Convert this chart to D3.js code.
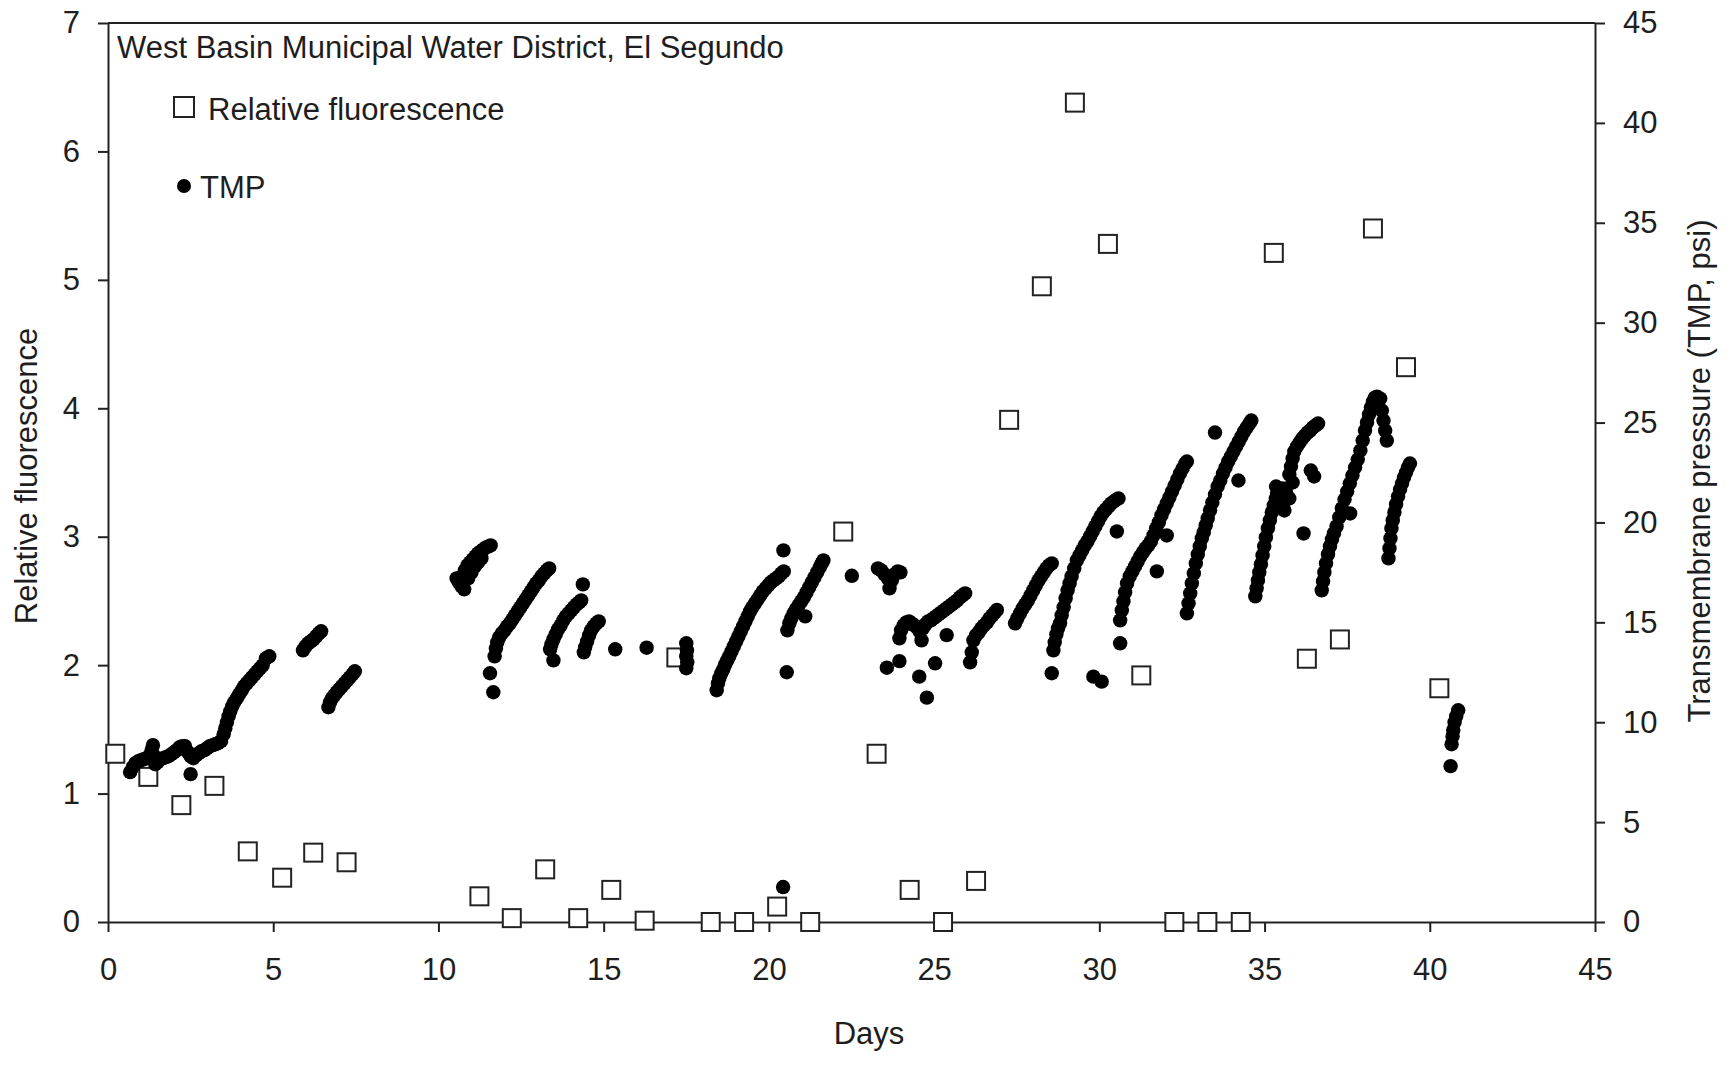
<!DOCTYPE html>
<html>
<head>
<meta charset="utf-8">
<script src="https://cdn.jsdelivr.net/npm/d3@7"></script>
<style>
  body { margin: 0; background: #fff; }
  svg text { font-family: "Liberation Sans", Arial, sans-serif; fill: #1e1e1e; }
  .axis path, .axis line { stroke: #222; stroke-width: 2; }
</style>
</head>
<body>
<div id="chart"></div>
<script>
// relative fluorescence samples (open squares, left axis)
var fluorDays = [0.22, 1.22, 2.22, 3.22, 4.23, 5.27, 6.21, 7.22, 11.24, 12.22, 13.23, 14.23, 15.23, 16.24,
  17.2, 18.24, 19.25, 20.25, 21.25, 22.25, 23.26, 24.26, 25.27, 26.27, 27.27, 28.26, 29.26, 30.26,
  31.27, 32.27, 33.27, 34.28, 35.28, 36.28, 37.28, 38.28, 39.28, 40.29];
var fluorValues = [1.31, 1.13, 0.91, 1.06, 0.55, 0.345, 0.54, 0.465, 0.20, 0.03, 0.41, 0.03, 0.25, 0.01,
  2.06, 0, 0, 0.12, 0, 3.04, 1.31, 0.25, 0, 0.32, 3.91, 4.95, 6.38, 5.28,
  1.92, 0, 0, 0, 5.21, 2.05, 2.20, 5.40, 4.32, 1.82];

// transmembrane pressure readings [day, psi] (filled dots, right axis)
var tmpReadings = [
  [0.67,7.5],[0.75,7.75],[0.83,7.95],[0.92,8.05],[1.0,8.1],[1.08,8.15],[1.17,8.2],[1.25,8.3],[1.32,8.6],[1.36,8.85],
  [1.40,8.3],[1.43,7.9],[1.5,8.0],[1.58,8.15],[1.67,8.2],[1.75,8.25],[1.83,8.3],[1.92,8.4],[2.0,8.5],[2.08,8.6],
  [2.17,8.75],[2.25,8.8],[2.33,8.8],[2.42,8.5],[2.5,8.3],[2.5,7.4],[2.58,8.2],[2.67,8.35],[2.75,8.45],[2.83,8.55],
  [2.92,8.6],[3.0,8.7],[3.08,8.8],[3.17,8.85],[3.25,8.9],[3.33,8.95],[3.42,9.05],[3.5,9.4],[3.55,9.7],[3.6,10.0],
  [3.65,10.3],[3.7,10.55],[3.76,10.8],[3.82,11.0],[3.9,11.2],[3.97,11.4],[4.05,11.6],[4.12,11.8],[4.2,11.95],[4.28,12.1],
  [4.36,12.25],[4.44,12.4],[4.52,12.55],[4.6,12.7],[4.68,12.85],[4.78,13.2],[4.88,13.3],
  [5.9,13.6],[5.98,13.8],[6.06,13.95],[6.14,14.05],[6.22,14.15],[6.3,14.3],[6.38,14.45],[6.45,14.55],
  [6.67,10.75],[6.72,11.0],[6.78,11.2],[6.85,11.35],[6.92,11.5],[7.0,11.65],[7.08,11.8],[7.16,11.95],[7.24,12.1],
  [7.32,12.25],[7.4,12.4],[7.47,12.55],
  [10.55,17.2],[10.62,17.0],[10.7,16.8],[10.78,16.65],[10.72,17.3],[10.8,17.6],[10.88,17.85],[10.96,18.0],[11.04,18.15],
  [11.12,18.3],[11.2,18.45],[11.28,18.55],[11.36,18.65],[11.44,18.75],[11.52,18.8],[11.58,18.85],[10.9,17.2],[11.0,17.5],
  [11.1,17.8],[11.2,18.0],[11.3,18.2],[11.56,12.45],[11.66,11.5],
  [11.7,13.3],[11.74,13.7],[11.78,14.0],[11.84,14.25],[11.92,14.45],[12.0,14.6],[12.08,14.8],[12.16,14.95],[12.24,15.15],
  [12.32,15.35],[12.4,15.55],[12.48,15.75],[12.56,15.95],[12.64,16.15],[12.72,16.35],[12.8,16.55],[12.88,16.75],
  [12.96,16.95],[13.04,17.1],[13.12,17.3],[13.2,17.45],[13.28,17.6],[13.35,17.7],
  [13.48,13.1],[13.38,13.65],[13.42,13.9],[13.48,14.15],[13.55,14.4],[13.62,14.65],[13.7,14.85],[13.78,15.1],[13.86,15.3],
  [13.94,15.45],[14.02,15.6],[14.1,15.75],[14.18,15.9],[14.26,16.0],[14.32,16.1],[14.37,16.9],
  [14.4,13.5],[14.44,13.75],[14.5,14.05],[14.56,14.35],[14.62,14.6],[14.7,14.8],[14.78,14.95],[14.85,15.05],
  [15.35,13.65],[16.3,13.73],
  [17.5,13.95],[17.52,13.6],[17.5,13.3],[17.53,13.0],[17.5,12.7],
  [18.42,11.6],[18.46,11.95],[18.5,12.2],[18.56,12.45],[18.62,12.65],[18.68,12.9],[18.74,13.1],[18.8,13.3],[18.87,13.55],
  [18.94,13.8],[19.01,14.05],[19.08,14.3],[19.15,14.55],[19.22,14.8],[19.29,15.05],[19.36,15.3],[19.43,15.55],[19.5,15.75],
  [19.58,15.95],[19.66,16.15],[19.74,16.35],[19.82,16.55],[19.9,16.7],[19.98,16.85],[20.06,17.0],[20.14,17.1],[20.22,17.2],
  [20.3,17.3],[20.38,17.45],[20.45,17.55],[20.44,18.6],[20.54,12.5],[20.43,1.75],
  [20.56,14.6],[20.62,14.95],[20.68,15.2],[20.75,15.45],[20.82,15.65],[20.9,15.85],[20.98,16.05],[21.06,16.25],[21.14,16.5],
  [21.22,16.75],[21.3,17.0],[21.38,17.25],[21.46,17.5],[21.54,17.75],[21.6,17.95],[21.65,18.1],[21.1,15.3],
  [22.51,17.33],
  [23.3,17.7],[23.4,17.6],[23.5,17.4],[23.6,17.2],[23.65,16.7],[23.72,17.1],[23.8,17.4],[23.9,17.55],[23.98,17.5],
  [23.95,14.2],[24.0,14.6],[24.08,14.85],[24.16,15.0],[24.24,15.05],[24.32,14.95],[24.4,14.85],[24.48,14.75],[24.56,14.55],
  [24.62,14.1],[24.66,14.7],[24.74,14.9],[24.82,15.05],[24.9,15.1],[24.98,15.2],[25.06,15.3],[25.14,15.4],[25.22,15.5],
  [25.3,15.6],[25.38,15.7],[25.46,15.8],[25.54,15.9],[25.62,16.0],[25.7,16.1],[25.78,16.25],[25.86,16.35],[25.94,16.45],
  [25.38,14.36],[23.57,12.73],[23.95,13.06],[25.03,12.95],[24.55,12.28],[24.78,11.23],
  [26.09,13.0],[26.14,13.5],[26.19,14.1],[26.27,14.35],[26.35,14.5],[26.43,14.7],[26.51,14.85],[26.6,15.0],[26.68,15.2],
  [26.76,15.35],[26.84,15.5],[26.9,15.62],
  [27.45,14.95],[27.52,15.2],[27.6,15.45],[27.68,15.7],[27.76,15.9],[27.84,16.1],[27.92,16.35],[28.0,16.6],[28.08,16.85],
  [28.16,17.1],[28.24,17.3],[28.32,17.5],[28.4,17.7],[28.48,17.85],[28.56,17.95],[28.56,12.45],
  [28.61,13.6],[28.65,14.0],[28.7,14.4],[28.75,14.7],[28.81,14.95],[28.86,15.35],[28.92,15.75],[28.98,16.2],[29.04,16.6],
  [29.1,16.95],[29.16,17.3],[29.24,17.7],[29.32,18.1],[29.4,18.35],[29.48,18.6],[29.56,18.85],[29.64,19.05],[29.72,19.3],
  [29.8,19.55],[29.88,19.8],[29.96,20.05],[30.04,20.3],[30.12,20.5],[30.2,20.65],[30.28,20.8],[30.36,20.95],[30.44,21.05],
  [30.52,21.15],[30.58,21.2],[30.53,19.55],[29.82,12.28],[30.07,12.03],[30.63,13.95],
  [30.63,15.1],[30.68,15.6],[30.73,16.05],[30.78,16.5],[30.84,16.95],[30.92,17.3],[31.0,17.55],[31.08,17.8],[31.16,18.05],
  [31.24,18.3],[31.32,18.5],[31.4,18.7],[31.48,18.85],[31.56,19.05],[31.64,19.35],[31.72,19.7],[31.8,20.0],[31.88,20.35],
  [31.96,20.65],[32.04,20.95],[32.12,21.25],[32.2,21.55],[32.28,21.85],[32.36,22.15],[32.44,22.45],[32.52,22.7],[32.6,22.95],
  [32.65,23.05],[31.74,17.55],[32.04,19.35],
  [32.65,15.45],[32.7,15.95],[32.75,16.45],[32.8,16.95],[32.86,17.45],[32.92,17.95],[32.98,18.4],[33.04,18.8],[33.1,19.2],
  [33.16,19.5],[33.22,19.85],[33.28,20.2],[33.35,20.6],[33.42,21.0],[33.5,21.4],[33.58,21.8],[33.66,22.1],[33.74,22.45],
  [33.82,22.75],[33.9,23.05],[33.98,23.3],[34.06,23.55],[34.14,23.8],[34.22,24.05],[34.3,24.3],[34.38,24.55],[34.46,24.75],
  [34.54,24.95],[34.6,25.1],[33.5,24.5],[34.21,22.1],
  [34.72,16.3],[34.76,16.7],[34.8,17.1],[34.84,17.5],[34.89,17.9],[34.94,18.35],[34.99,18.8],[35.04,19.25],[35.1,19.7],
  [35.16,20.1],[35.22,20.5],[35.28,20.85],[35.34,21.2],[35.38,21.45],[35.35,21.8],[35.45,21.6],[35.55,21.7],[35.65,21.5],
  [35.75,21.2],[35.55,21.2],[35.6,20.6],[35.75,22.4],[35.8,22.8],[35.85,23.2],[35.9,23.55],[35.98,23.8],[36.06,24.0],
  [36.14,24.2],[36.22,24.35],[36.3,24.5],[36.38,24.6],[36.46,24.75],[36.54,24.85],[36.62,24.95],[36.5,22.3],[36.4,22.6],
  [35.85,22.0],[36.18,19.45],
  [36.73,16.6],[36.77,17.05],[36.81,17.5],[36.86,17.95],[36.92,18.4],[36.98,18.8],[37.04,19.15],[37.1,19.45],[37.18,19.8],
  [37.26,20.25],[37.34,20.7],[37.42,21.15],[37.5,21.55],[37.58,21.95],[37.66,22.35],[37.74,22.75],[37.82,23.15],[37.9,23.6],
  [37.97,24.1],[38.04,24.6],[38.1,25.0],[38.16,25.4],[38.22,25.75],[38.28,26.05],[38.34,26.25],[38.4,26.3],[37.59,20.45],
  [38.5,26.2],[38.55,25.6],[38.6,25.1],[38.65,24.6],[38.7,24.1],
  [38.75,18.2],[38.78,18.7],[38.81,19.2],[38.84,19.7],[38.88,20.1],[38.93,20.5],[38.98,20.9],[39.04,21.3],[39.1,21.65],
  [39.16,21.95],[39.22,22.25],[39.28,22.5],[39.34,22.75],[39.4,22.95],
  [40.63,7.8],[40.66,8.9],[40.69,9.3],[40.71,9.6],[40.75,10.0],[40.8,10.3],[40.86,10.6]
];

var dayTicks = [0, 5, 10, 15, 20, 25, 30, 35, 40, 45];
var fluorTicks = [0, 1, 2, 3, 4, 5, 6, 7];
var tmpTicks = [0, 5, 10, 15, 20, 25, 30, 35, 40, 45];

var chartTitle = "West Basin Municipal Water District, El Segundo";
var legendLabels = ["Relative fluorescence", "TMP"];

(function () {
  "use strict";
  var width = 1732, height = 1074;
  var margin = {top: 23, right: 137, bottom: 152, left: 108};
  var fontSize = 31;

  var svg = d3.select("#chart").append("svg")
    .attr("width", width)
    .attr("height", height);

  svg.append("rect").attr("width", width).attr("height", height).attr("fill", "#fff");

  var x = d3.scaleLinear().domain([0, 45]).range([margin.left, width - margin.right]);
  var yLeft = d3.scaleLinear().domain([0, 7]).range([height - margin.bottom, margin.top]);
  var yRight = d3.scaleLinear().domain([0, 45]).range([height - margin.bottom, margin.top]);

  // frame top line
  svg.append("line")
    .attr("x1", x(0)).attr("x2", x(45))
    .attr("y1", yLeft(7)).attr("y2", yLeft(7))
    .attr("stroke", "#222").attr("stroke-width", 2);

  svg.append("g")
    .attr("class", "axis")
    .attr("transform", "translate(0," + yLeft(0) + ")")
    .call(d3.axisBottom(x).tickValues(dayTicks).tickFormat(d3.format("d"))
      .tickSize(10).tickSizeOuter(0).tickPadding(26));

  svg.append("g")
    .attr("class", "axis")
    .attr("transform", "translate(" + x(0) + ",0)")
    .call(d3.axisLeft(yLeft).tickValues(fluorTicks).tickFormat(d3.format("d"))
      .tickSize(10).tickSizeOuter(0).tickPadding(18));

  svg.append("g")
    .attr("class", "axis")
    .attr("transform", "translate(" + x(45) + ",0)")
    .call(d3.axisRight(yRight).tickValues(tmpTicks).tickFormat(d3.format("d"))
      .tickSize(10).tickSizeOuter(0).tickPadding(18));

  svg.selectAll(".axis text")
    .attr("font-size", fontSize)
    .style("font-family", "'Liberation Sans', Arial, sans-serif")
    .attr("fill", "#1e1e1e");

  // axis titles
  svg.append("text")
    .attr("x", 869).attr("y", 1044)
    .attr("text-anchor", "middle")
    .attr("font-size", fontSize)
    .text("Days");

  svg.append("text")
    .attr("transform", "translate(37," + 476 + ") rotate(-90)")
    .attr("text-anchor", "middle")
    .attr("font-size", fontSize)
    .text("Relative fluorescence");

  svg.append("text")
    .attr("transform", "translate(1710," + 471 + ") rotate(-90)")
    .attr("text-anchor", "middle")
    .attr("font-size", fontSize)
    .text("Transmembrane pressure (TMP, psi)");

  // fluorescence squares, drawn under the TMP dots
  var sq = 18;
  svg.append("g").selectAll("rect")
    .data(fluorDays.map(function (d, i) { return {day: d, value: fluorValues[i]}; }))
    .enter().append("rect")
      .attr("x", function (d) { return x(d.day) - sq / 2; })
      .attr("y", function (d) { return yLeft(d.value) - sq / 2; })
      .attr("width", sq)
      .attr("height", sq)
      .attr("fill", "#fff")
      .attr("stroke", "#222")
      .attr("stroke-width", 2);

  svg.append("g").selectAll("circle")
    .data(tmpReadings)
    .enter().append("circle")
      .attr("cx", function (d) { return x(d[0]); })
      .attr("cy", function (d) { return yRight(d[1]); })
      .attr("r", 7.2)
      .attr("fill", "#000");

  // title and legend
  svg.append("text")
    .attr("x", 117).attr("y", 58)
    .attr("font-size", fontSize)
    .text(chartTitle);

  svg.append("rect")
    .attr("x", 174).attr("y", 97)
    .attr("width", 20).attr("height", 20)
    .attr("fill", "#fff").attr("stroke", "#222").attr("stroke-width", 2);
  svg.append("text")
    .attr("x", 208).attr("y", 120)
    .attr("font-size", fontSize)
    .text(legendLabels[0]);

  svg.append("circle")
    .attr("cx", 184).attr("cy", 186).attr("r", 7)
    .attr("fill", "#000");
  svg.append("text")
    .attr("x", 200).attr("y", 198)
    .attr("font-size", fontSize)
    .text(legendLabels[1]);
}());
</script>
</body>
</html>
